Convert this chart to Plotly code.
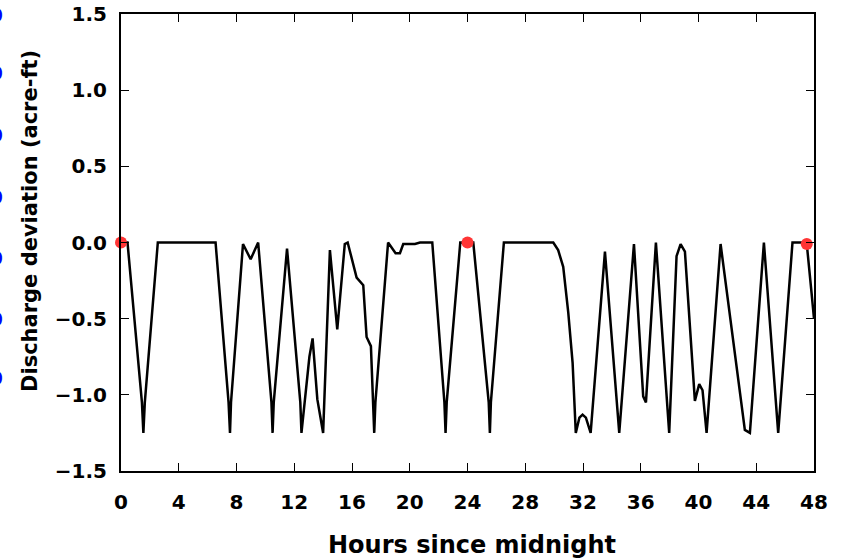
import plotly.graph_objects as go

## dados
horas = [0, 0.45, 1.45, 1.55, 1.65, 2.55, 6.55, 7.45, 7.55, 7.62, 8.45, 8.98, 9.5,
         10.42, 10.5, 10.58, 11.5, 12.42, 12.5, 13.05, 13.27, 13.6, 14.0, 14.47,
         14.98, 15.5, 15.7, 16.32, 16.78, 17.01, 17.31, 17.47, 17.54, 17.62, 18.5,
         19.02, 19.32, 19.55, 20.36, 20.71, 21.56, 22.4, 22.48, 22.56, 23.5, 24.0,
         24.4, 25.47, 25.55, 25.62, 26.52, 29.94, 30.28, 30.63, 30.98, 31.28, 31.5,
         31.75, 31.97, 32.2, 32.53, 33.52, 34.51, 35.53, 36.17, 36.36, 37.05, 37.97,
         38.48, 38.76, 39.06, 39.75, 40.05, 40.28, 40.56, 41.53, 43.21, 43.56, 44.53,
         45.52, 46.51, 47.25, 47.5, 47.83, 48.0]
desvio = [0, 0, -1.05, -1.25, -1.05, 0, 0, -1.05, -1.25, -1.05, -0.01, -0.11, 0,
          -1.05, -1.25, -1.05, -0.04, -1.05, -1.25, -0.75, -0.63, -1.03, -1.25, -0.05,
          -0.57, -0.01, 0, -0.23, -0.28, -0.62, -0.68, -1.05, -1.25, -1.05, 0,
          -0.07, -0.07, -0.01, -0.01, 0, 0, -1.05, -1.25, -1.05, 0, 0,
          0, -1.05, -1.25, -1.05, 0, 0, -0.05, -0.16, -0.46, -0.79, -1.25,
          -1.15, -1.13, -1.15, -1.25, -0.06, -1.25, -0.01, -1.01, -1.05, 0, -1.25,
          -0.09, -0.01, -0.06, -1.04, -0.93, -0.97, -1.25, -0.01, -1.23, -1.25, 0,
          -1.25, 0, 0, -0.01, -0.33, -0.5]

pontos_x = [0, 24, 47.5]
pontos_y = [0, 0, -0.01]

x_ticks = list(range(0, 49, 4))
y_ticks = [-1.5, -1.0, -0.5, 0.0, 0.5, 1.0, 1.5]

# restos de rótulos azuis de outro gráfico, cortados na borda esquerda
azul_y_px = [15, 73, 135, 197, 258, 319, 378]

fonte = dict(family="DejaVu Sans", size=20, color="black", weight="bold")

fig = go.Figure()
fig.add_trace(go.Scatter(x=horas, y=desvio, mode="lines",
                         line=dict(color="black", width=2.5), showlegend=False))
fig.add_trace(go.Scatter(x=pontos_x, y=pontos_y, mode="markers",
                         marker=dict(color="#ff3535", size=12), showlegend=False,
                         cliponaxis=False))

eixo = dict(showline=True, linecolor="black", linewidth=2, mirror="ticks",
            ticks="inside", ticklen=8, tickwidth=1, tickcolor="black",
            showgrid=False, zeroline=False, tickfont=fonte, automargin=False)

fig.update_xaxes(range=[0, 48], tickvals=x_ticks, ticklabelstandoff=12, **eixo)
fig.update_yaxes(range=[-1.5, 1.5], tickvals=y_ticks, tickformat=".1f",
                 ticklabelstandoff=8, **eixo)

anotacoes = [
    dict(text="Hours since midnight", xref="paper", yref="paper",
         x=(472 - 121) / 693, y=(471 - 545) / 457, showarrow=False,
         xanchor="center", yanchor="middle",
         font=dict(family="DejaVu Sans", size=24, color="black", weight="bold")),
    dict(text="Discharge deviation (acre-ft)", xref="paper", yref="paper",
         x=(30 - 121) / 693, y=(471 - 221) / 457, showarrow=False, textangle=-90,
         xanchor="center", yanchor="middle",
         font=dict(family="DejaVu Sans", size=21, color="black", weight="bold")),
]
for py in azul_y_px:
    anotacoes.append(dict(text="0", xref="paper", yref="paper",
                          x=(-4 - 121) / 693, y=(471 - py) / 457, showarrow=False,
                          xanchor="center", yanchor="middle",
                          font=dict(family="DejaVu Sans", size=20, color="blue",
                                    weight="bold")))

fig.update_layout(width=842, height=558, margin=dict(l=121, r=28, t=14, b=87),
                  plot_bgcolor="white", paper_bgcolor="white",
                  template="none", annotations=anotacoes)

fig.write_html("out.html", config={"displayModeBar": False},
               post_script="document.body.style.margin='0px';")
